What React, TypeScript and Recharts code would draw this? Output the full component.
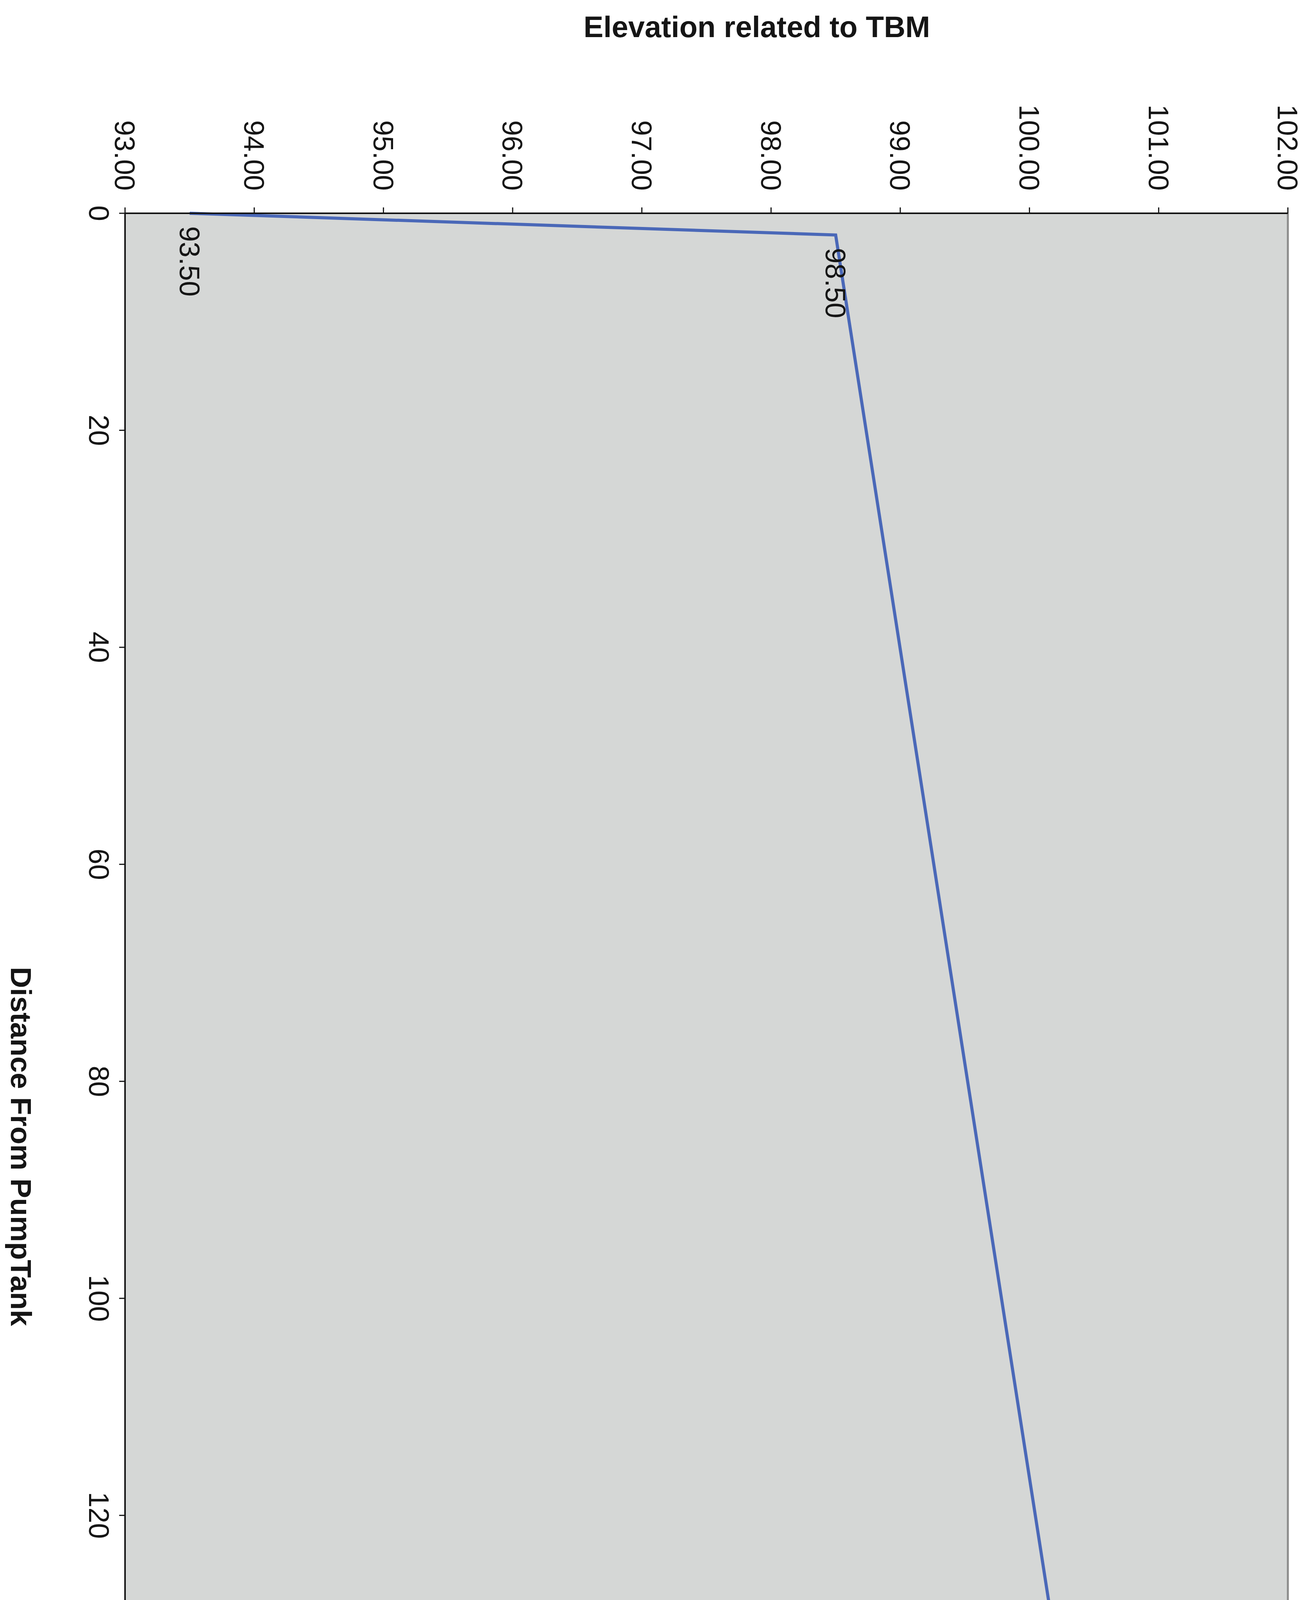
import React from 'react';
import {
  LineChart,
  Line,
  XAxis,
  YAxis,
  CartesianGrid,
  ReferenceLine,
  LabelList,
  Label,
} from 'recharts';

// survey points
const distances = [0, 2, 170];
const elevations = [93.5, 98.5, 100.7];

const distanceTicks = [0, 20, 40, 60, 80, 100, 120, 140, 160, 180];
const elevationTicks = [93, 94, 95, 96, 97, 98, 99, 100, 101, 102];

const data = distances.map((d, i) => ({ distance: d, elevation: elevations[i] }));

const FONT = '"Liberation Sans", Arial, sans-serif';
const INK = '#151515';
const FS = 72;

// the sheet was printed sideways, so every text reads top to bottom
const ElevationTick = (props: any) => {
  const { x, y, payload } = props;
  return (
    <text
      x={x}
      y={y}
      transform={`rotate(90 ${x} ${y})`}
      textAnchor="end"
      dy="0.355em"
      fontSize={FS}
      fontFamily={FONT}
      fill={INK}
    >
      {Number(payload.value).toFixed(2)}
    </text>
  );
};

const DistanceTick = (props: any) => {
  const { x, y, payload } = props;
  return (
    <text
      x={x}
      y={y}
      transform={`rotate(90 ${x} ${y})`}
      textAnchor="middle"
      fontSize={FS}
      fontFamily={FONT}
      fill={INK}
    >
      {payload.value}
    </text>
  );
};

const PointLabel = (props: any) => {
  const vb = props.viewBox || props;
  const x = vb.x;
  const y = vb.y + 33;
  return (
    <text
      x={x}
      y={y}
      transform={`rotate(90 ${x} ${y})`}
      textAnchor="start"
      dy="0.355em"
      fontSize={FS}
      fontFamily={FONT}
      fill={INK}
    >
      {Number(props.value).toFixed(2)}
    </text>
  );
};

export default function App() {
  return (
    <div style={{ margin: -8, width: 3368, height: 5600, background: '#fff', overflow: 'hidden' }}>
      <LineChart
        layout="vertical"
        width={3368}
        height={5600}
        data={data}
        margin={{ top: 0, right: 72, left: 0, bottom: 54 }}
        style={{ fontFamily: FONT }}
      >
        <CartesianGrid horizontal={false} vertical={false} fill="#d5d7d6" fillOpacity={1} />
        <XAxis
          type="number"
          orientation="top"
          domain={[93, 102]}
          ticks={elevationTicks}
          interval={0}
          height={546}
          tickSize={15}
          tickMargin={43}
          axisLine={{ stroke: INK, strokeWidth: 4 }}
          tickLine={{ stroke: INK, strokeWidth: 3 }}
          tick={<ElevationTick />}
        >
          <Label
            content={() => (
              <text
                x={1937}
                y={68}
                textAnchor="middle"
                dominantBaseline="central"
                fontSize={76}
                fontWeight="bold"
                fontFamily={FONT}
                fill={INK}
              >
                Elevation related to TBM
              </text>
            )}
          />
        </XAxis>
        <YAxis
          dataKey="distance"
          type="number"
          domain={[0, 180]}
          ticks={distanceTicks}
          interval={0}
          width={320}
          tickSize={15}
          tickMargin={77}
          axisLine={{ stroke: INK, strokeWidth: 4 }}
          tickLine={{ stroke: INK, strokeWidth: 3 }}
          tick={<DistanceTick />}
        >
          <Label
            content={() => (
              <text
                x={54}
                y={2935}
                transform="rotate(90 54 2935)"
                textAnchor="middle"
                dominantBaseline="central"
                fontSize={75}
                fontWeight="bold"
                fontFamily={FONT}
                fill={INK}
              >
                Distance From PumpTank
              </text>
            )}
          />
        </YAxis>
        <ReferenceLine x={102} stroke="#8c8c8c" strokeWidth={5} />
        <ReferenceLine y={180} stroke="#8c8c8c" strokeWidth={5} />
        <Line
          type="linear"
          dataKey="elevation"
          stroke="#4a68b8"
          strokeWidth={8}
          dot={false}
          isAnimationActive={false}
        >
          <LabelList dataKey="elevation" content={<PointLabel />} />
        </Line>
      </LineChart>
    </div>
  );
}
